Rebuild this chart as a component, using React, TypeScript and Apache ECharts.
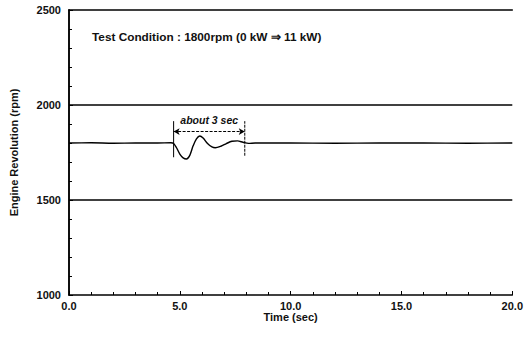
import React, { useEffect, useRef } from "react";
import * as echarts from "echarts";

const timeSec = [0, 1, 2, 3, 4, 4.6, 4.72, 4.85, 5.0, 5.15, 5.3, 5.45, 5.6, 5.75, 5.9, 6.05, 6.25, 6.45, 6.6, 6.85, 7.1, 7.35, 7.6, 7.85, 8.1, 8.4, 9, 10, 12, 14, 16, 18, 20];
const rpm = [1800, 1801, 1799, 1800, 1800, 1801, 1797, 1775, 1742, 1722, 1716, 1735, 1785, 1822, 1837, 1826, 1797, 1779, 1775, 1783, 1797, 1809, 1811, 1804, 1798, 1800, 1800, 1800, 1799, 1800, 1800, 1799, 1800];
const upperLimit = 2000;
const lowerLimit = 1500;
const xRange = [0, 20];
const windowStart = 4.72;
const windowEnd = 7.93;
const windowLow = 1725;
const windowHigh = 1915;
const arrowLevel = 1860;
const titleText = "Test Condition : 1800rpm (0 kW \u21D2 11 kW)";
const windowText = "about 3 sec";

const FONT = "'Liberation Sans', Arial, sans-serif";

export default function App() {
  const ref = useRef<HTMLDivElement>(null);
  useEffect(() => {
    const chart = echarts.init(ref.current!, undefined, { renderer: "svg" });
    const lineStyle = { color: "#000", width: 1.5 };
    chart.setOption({
      animation: false,
      backgroundColor: "#fff",
      title: {
        text: titleText,
        left: 92,
        top: 31,
        padding: 0,
        textStyle: { fontFamily: FONT, fontSize: 11.8, fontWeight: "bold", color: "#111" },
      },
      grid: { left: 68, right: 9, top: 10, bottom: 50 },
      xAxis: [
        {
          type: "value",
          min: 0,
          max: 20,
          interval: 5,
          name: "Time (sec)",
          nameLocation: "middle",
          nameGap: 16,
          nameMoveOverlap: false,
          nameTextStyle: { fontFamily: FONT, fontSize: 11, fontWeight: "bold", color: "#111" },
          axisLine: { show: true, lineStyle },
          axisTick: { show: true, inside: true, length: 4, lineStyle: { color: "#000" } },
          minorTick: { show: true, splitNumber: 5, length: 3, lineStyle: { color: "#000", width: 1 } },
          axisLabel: {
            margin: 5,
            fontFamily: FONT,
            fontSize: 11,
            fontWeight: "bold",
            color: "#111",
            formatter: (v: number) => v.toFixed(1),
          },
          splitLine: { show: false },
        },
        {
          type: "value",
          position: "top",
          min: 0,
          max: 20,
          interval: 5,
          axisLine: { show: true, lineStyle },
          axisTick: { show: false },
          axisLabel: { show: false },
          splitLine: { show: false },
        },
      ],
      yAxis: [
        {
          type: "value",
          min: 1000,
          max: 2500,
          interval: 500,
          name: "Engine Revolution (rpm)",
          nameLocation: "middle",
          nameGap: 50,
          nameMoveOverlap: false,
          nameTextStyle: { fontFamily: FONT, fontSize: 11, fontWeight: "bold", color: "#111" },
          axisLine: { show: true, lineStyle },
          axisTick: { show: true, inside: true, length: 4, lineStyle: { color: "#000" } },
          minorTick: { show: true, splitNumber: 5, length: 3, lineStyle: { color: "#000", width: 1 } },
          axisLabel: {
            margin: 8,
            fontFamily: FONT,
            fontSize: 11,
            fontWeight: "bold",
            color: "#111",
            formatter: (v: number) => String(v),
          },
          splitLine: { show: false },
        },
        {
          type: "value",
          position: "right",
          min: 1000,
          max: 2500,
          interval: 500,
          axisLine: { show: true, lineStyle },
          axisTick: { show: false },
          axisLabel: { show: false },
          splitLine: { show: false },
        },
      ],
      series: [
        {
          type: "line",
          data: timeSec.map((t, i) => [t, rpm[i]]),
          showSymbol: false,
          smooth: 0.3,
          lineStyle: { color: "#000", width: 1.4 },
          z: 5,
        },
        {
          type: "line",
          data: xRange.map((t) => [t, upperLimit]),
          showSymbol: false,
          lineStyle: { color: "#000", width: 1.3 },
        },
        {
          type: "line",
          data: xRange.map((t) => [t, lowerLimit]),
          showSymbol: false,
          lineStyle: { color: "#000", width: 1.3 },
        },
        {
          type: "line",
          data: [[windowStart, windowLow], [windowStart, windowHigh]],
          showSymbol: false,
          lineStyle: { color: "#000", width: 1 },
        },
        {
          type: "line",
          data: [[windowEnd, windowLow + 8], [windowEnd, windowHigh]],
          showSymbol: false,
          lineStyle: { color: "#000", width: 1, type: [3, 1] },
          markLine: {
            silent: true,
            symbol: ["arrow", "arrow"],
            symbolSize: [5, 6],
            lineStyle: { color: "#000", width: 1, type: [3, 1.5] },
            label: {
              show: true,
              position: "insideMiddleTop",
              distance: 6,
              formatter: windowText,
              fontFamily: FONT,
              fontSize: 10.5,
              fontWeight: "bold",
              fontStyle: "italic",
              color: "#111",
            },
            data: [[{ coord: [windowStart, arrowLevel] }, { coord: [windowEnd, arrowLevel] }]],
          },
        },
      ],
    });
    return () => chart.dispose();
  }, []);
  return <div ref={ref} style={{ width: 526, height: 345, position: "absolute", left: 0, top: 0 }} />;
}
